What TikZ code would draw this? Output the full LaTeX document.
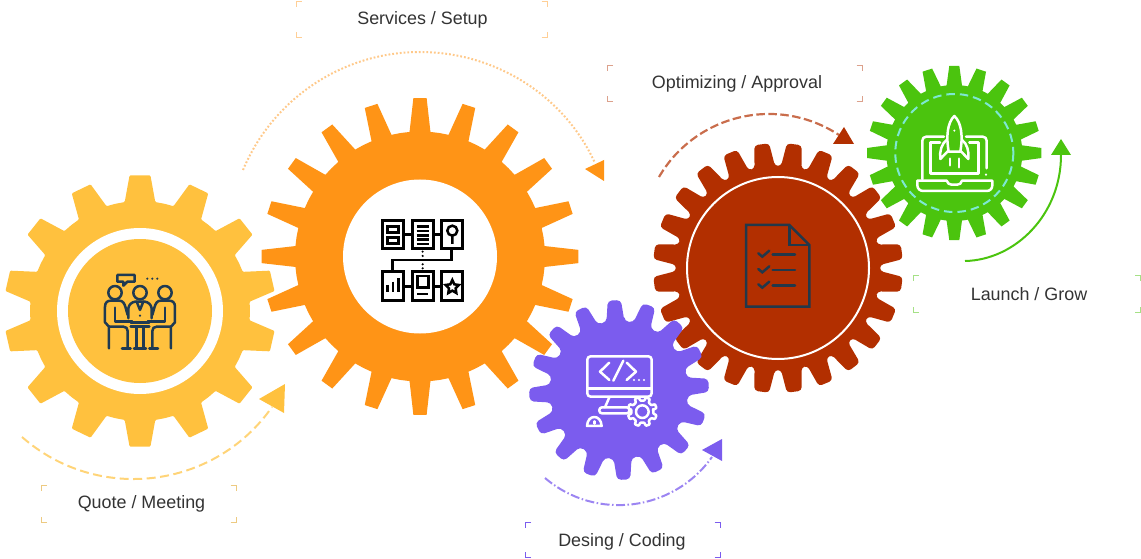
\documentclass[tikz,border=0pt]{standalone}
\usepackage{fontspec}
\setmainfont{Liberation Sans}
\definecolor{cyel}{HTML}{FFC13E}
\definecolor{cora}{HTML}{FF9416}
\definecolor{cred}{HTML}{B22F00}
\definecolor{cpur}{HTML}{7B5CEE}
\definecolor{cgrn}{HTML}{4BC40E}
\definecolor{cnavy}{HTML}{1F3A52}
\definecolor{cdoc}{HTML}{22384A}
\definecolor{ctxt}{HTML}{333333}
\definecolor{cteal}{HTML}{7DE8D3}
% #1 cx #2 cy #3 n #4 root r #5 tip r #6 root half angle #7 tip half angle #8 offset
\newcommand\gearpath[8]{({#1+#4*cos(#8-#6)},{#2-#4*sin(#8-#6)})
  \foreach \gi in {1,...,#3}{
    -- ({#1+#5*cos(#8+(\gi-1)*360/#3-#7)},{#2-#5*sin(#8+(\gi-1)*360/#3-#7)})
    -- ({#1+#5*cos(#8+(\gi-1)*360/#3+#7)},{#2-#5*sin(#8+(\gi-1)*360/#3+#7)})
    -- ({#1+#4*cos(#8+(\gi-1)*360/#3+#6)},{#2-#4*sin(#8+(\gi-1)*360/#3+#6)})
    -- ({#1+#4*cos(#8+(\gi-0.5)*360/#3)},{#2-#4*sin(#8+(\gi-0.5)*360/#3)})
    -- ({#1+#4*cos(#8+\gi*360/#3-#6)},{#2-#4*sin(#8+\gi*360/#3-#6)})
  } -- cycle}
% bracket frame: #1 colour, corners (#2,#3)-(#4,#5)
\newcommand\brackets[5]{%
  \draw[#1,line width=1pt]
    (#2+5.5,#3)--(#2,#3)--(#2,#3+5.5)
    (#4-5.5,#3)--(#4,#3)--(#4,#3+5.5)
    (#2+5.5,#5)--(#2,#5)--(#2,#5-5.5)
    (#4-5.5,#5)--(#4,#5)--(#4,#5-5.5);}
\tikzset{
  label text/.style={anchor=base,inner sep=0pt,text=ctxt,font=\fontsize{17.9}{20}\selectfont},
  ic/.style={line width=2.5pt,line cap=round,line join=round},
  zoomicon/.style={shift={#1},x=.3333pt,y=-.3333pt}
}
\begin{document}
\begin{tikzpicture}[x=1pt,y=-1pt]
\useasboundingbox (0,0) rectangle (1141,559);

% gears
\fill[cyel,rounded corners=1pt] \gearpath{140}{311}{14}{110}{136}{8}{4.4}{90};
\fill[white] (140,311) circle[radius=83];
\fill[cyel] (140,311) circle[radius=72];

\fill[cora] \gearpath{420}{256.5}{20}{125}{158.5}{4.8}{2.4}{90};
\fill[white] (420,256.5) circle[radius=77];

\fill[cred,rounded corners=3.5pt] \gearpath{778}{268}{24}{102}{125}{5.8}{3.4}{82.5};
\draw[white,line width=2pt] (778,268) circle[radius=91];

\fill[cpur,rounded corners=4pt] \gearpath{619}{390}{16}{69}{90}{7.5}{4.2}{93};

\fill[cgrn] \gearpath{954.3}{153}{20}{68}{87.3}{6.5}{3.3}{90};
\draw[cteal,line width=2pt,dash pattern=on 8.5pt off 5pt] (954.3,153) circle[radius=59];

% arcs
\coordinate (ya) at (22,437);
\coordinate (yb) at (272,407);
\draw[color=cyel!70!white,line width=2pt,dash pattern=on 9pt off 4.5pt] (ya) .. controls (97.6,503.4) and (214.3,489.4) .. (yb);
\fill[cyel] (259,399) -- (285,384) -- (284,413) -- cycle;

\coordinate (oa) at (243,170);
\coordinate (om) at (420,52);
\coordinate (ob) at (594.5,162);
\draw[color=cora!50!white,line width=2pt,dash pattern=on 1.8pt off 2pt] (oa) .. controls (272.8,98.7) and (342.7,52) .. (om) .. controls (494.4,52) and (563.5,94.7) .. (ob);
\fill[cora] (585,169) -- (604,160) -- (604,181) -- cycle;

\coordinate (ra) at (659,177);
\coordinate (rb) at (839,135);
\draw[color=cred!70!white,line width=2.2pt,dash pattern=on 8.5pt off 3.5pt] (ra) .. controls (695.7,114) and (778.1,94.9) .. (rb);
\fill[cred] (833,144) -- (844,127) -- (854,144) -- cycle;

\coordinate (ga) at (965,261);
\coordinate (gb) at (1061,155);
\draw[color=cgrn,line width=2pt] (ga) .. controls (1015,260) and (1061,215) .. (gb);
\fill[cgrn] (1051,155) -- (1061,139) -- (1071,155) -- cycle;

\coordinate (pa) at (545,478);
\coordinate (pb) at (712,457);
\draw[color=cpur!75!white,line width=2pt,dash pattern=on 9pt off 2.5pt on 1.5pt off 2.5pt] (pa) .. controls (595.9,521.4) and (673.3,511.5) .. (pb);
\fill[cpur] (702,450) -- (722,439) -- (722,461) -- cycle;

% label frames
\brackets{cyel!80!gray!70!white}{41.5}{485.5}{236}{522}
\brackets{cora!45!white}{296}{1.5}{547}{38}
\brackets{cred!45!white}{607.5}{65.5}{862}{102}
\brackets{cgrn!50!white}{913.5}{275.5}{1140.5}{312}
\brackets{cpur}{525.5}{522.5}{720}{557.5}

% labels
\node[label text] (t1) at (141.5,508.7) {Quote / Meeting};
\node[label text] (t2) at (422.5,25) {Services / Setup};
\node[label text] (t3) at (737,88.6) {Optimizing / Approval};
\node[label text] (t4) at (1029,300) {Launch / Grow};
\node[label text] (t5) at (622,546) {Desing / Coding};

% icon 1: meeting
\begin{scope}[zoomicon={(90,265)},ic,draw=cnavy]
  \draw (82,30) -- (134,30) -- (134,50) -- (112,50) -- (100,62) -- (100,50) -- (82,50) -- cycle;
  \fill[cnavy] (172,41) circle[radius=3.5] (187,41) circle[radius=3.5] (202,41) circle[radius=3.5];
  \draw (75,83) circle[radius=20] (150,83) circle[radius=20] (225,83) circle[radius=20];
  % left person
  \draw (57,250) -- (57,185) -- (45,172) -- (45,125) .. controls (45,113) and (52,107) .. (62,107) -- (88,107) .. controls (98,107) and (103,115) .. (106,125) -- (113,150);
  \draw (75,128) -- (75,170) -- (127,170);
  \draw (57,185) -- (100,185) .. controls (108,185) and (113,190) .. (113,198) -- (113,250);
  \draw (96,250) -- (122,250);
  % right person
  \draw (243,250) -- (243,185) -- (255,172) -- (255,125) .. controls (255,113) and (248,107) .. (238,107) -- (212,107) .. controls (202,107) and (197,115) .. (194,125) -- (187,150);
  \draw (225,128) -- (225,170) -- (173,170);
  \draw (243,185) -- (200,185) .. controls (192,185) and (187,190) .. (187,198) -- (187,250);
  \draw (178,250) -- (204,250);
  % centre person
  \draw (115,160) -- (115,130) .. controls (117,118) and (125,112) .. (135,110) -- (165,110) .. controls (175,112) and (183,118) .. (185,130) -- (185,160);
  \draw (140,110) -- (150,135) -- (160,110);
  \fill[cnavy] (150,152) circle[radius=3.5];
  \draw (122,172) -- (178,172) (122,184) -- (178,184);
  \draw (140,186) -- (140,248) (160,186) -- (160,248) (132,250) -- (168,250);
\end{scope}

% icon 2: services
\begin{scope}[zoomicon={(340,170)},draw=black,line width=2.5pt,line cap=butt,line join=miter]
  \foreach \xa/\xb in {127/190,217/280,305/368}{
    \draw (\xa,152) rectangle (\xb,236);
    \draw (\xa,305) rectangle (\xb,392);
  }
  \draw (190,194) -- (217,194) (280,194) -- (305,194) (190,349) -- (217,349) (280,349) -- (305,349);
  \draw (335,236) -- (335,270) -- (158,270) -- (158,305);
  \fill[black] (248,245) circle[radius=3.5] (248,258) circle[radius=3.5] (248,283) circle[radius=3.5] (248,295) circle[radius=3.5];
  \draw (142,170) rectangle (175,187) (142,203) rectangle (175,220);
  \foreach \yy in {170,183,196,209,222}{\draw (230,\yy) -- (267,\yy);}
  \draw (337,182) circle[radius=15] (337,197) -- (337,222);
  \draw (143,345) -- (143,367) (159,335) -- (159,367) (175,325) -- (175,367);
  \draw (232,318) rectangle (265,352) (232,372) -- (265,372);
  \draw (337,330) -- (343,343) -- (357,345) -- (347,355) -- (349,369) -- (337,362) -- (325,369) -- (327,355) -- (317,345) -- (331,343) -- cycle;
\end{scope}

% icon 3: code
\begin{scope}[zoomicon={(520,290)},ic,draw=white]
  \draw[rounded corners=3.3pt] (202,199) rectangle (395,320);
  \draw (205,295) -- (392,295);
  \draw (268,218) -- (240,245) -- (268,270);
  \draw (310,212) -- (280,272);
  \draw (320,218) -- (348,245) -- (320,270);
  \fill[white] (342,270) circle[radius=3.5] (357,270) circle[radius=3.5] (372,270) circle[radius=3.5];
  \draw (268,322) -- (255,352);
  \draw[rounded corners=2.6pt] (238,352) rectangle (328,370);
  \filldraw[fill=cpur,rounded corners=.7pt] \gearpath{367}{365}{8}{33}{44}{13}{8}{22.5};
  \draw (367,365) circle[radius=19];
  \draw (201,408) .. controls (203,372) and (243,372) .. (245,408) -- cycle;
  \draw (223,394) -- (223,401);
\end{scope}

% icon 4: document
\begin{scope}[zoomicon={(720,210)},draw=cdoc,line width=2.5pt,line join=miter]
  \draw (78,45) -- (208,45) -- (268,105) -- (268,290) -- (78,290) -- cycle;
  \draw (208,45) -- (208,105) -- (268,105);
  \foreach \yy in {133,180,226}{
    \draw[line cap=round] (115,\yy-3) -- (127,\yy+7) -- (148,\yy-11);
    \draw[line cap=round] (158,\yy) -- (225,\yy);
  }
\end{scope}

% icon 5: rocket
\begin{scope}[zoomicon={(860,60)},ic,draw=white]
  \draw (187,358) -- (187,242) .. controls (187,235) and (192,230) .. (199,230) -- (252,230);
  \draw (318,230) -- (368,230) .. controls (375,230) and (380,235) .. (380,242) -- (380,325);
  \fill[white] (378,344) circle[radius=3.5];
  \draw (240,248) -- (212,248) -- (212,340) -- (355,340) -- (355,248) -- (328,248);
  \draw (172,362) -- (260,362) .. controls (262,370) and (268,374) .. (275,374) -- (292,374) .. controls (299,374) and (304,370) .. (306,362) -- (397,362) -- (397,376) .. controls (397,386) and (390,393) .. (380,393) -- (190,393) .. controls (180,393) and (172,386) .. (172,376) -- cycle;
  \draw (283,168) .. controls (262,188) and (258,230) .. (266,275) -- (301,275) .. controls (309,230) and (305,188) .. (283,168) -- cycle;
  \fill[white] (283,212) circle[radius=3.5];
  \draw (260,240) .. controls (245,250) and (238,275) .. (241,297) -- (265,272);
  \draw (306,240) .. controls (321,250) and (328,275) .. (325,297) -- (301,272);
  \draw (270,296) -- (270,316) (297,296) -- (297,322);
\end{scope}
\end{tikzpicture}
\end{document}
